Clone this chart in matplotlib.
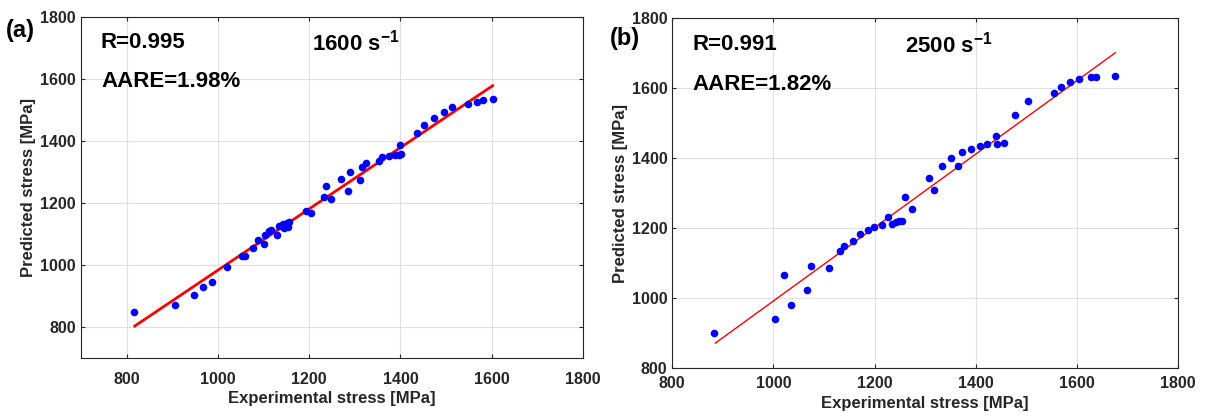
import matplotlib
matplotlib.use("Agg")
import matplotlib.pyplot as plt

plt.rcParams['font.family'] = ['Liberation Sans', 'DejaVu Sans']
plt.rcParams['font.weight'] = 'bold'
plt.rcParams['mathtext.fontset'] = 'custom'
plt.rcParams['mathtext.rm'] = 'Liberation Sans:bold'
plt.rcParams['mathtext.bf'] = 'Liberation Sans:bold'
plt.rcParams['mathtext.default'] = 'rm'

# panel (a): 1600 s^-1
exp_a = [817, 907, 948, 967, 988, 1021, 1054, 1059, 1077, 1089, 1101, 1104,
         1113, 1116, 1129, 1135, 1143, 1146, 1151, 1153, 1156, 1194, 1205,
         1232, 1238, 1247, 1270, 1286, 1289, 1311, 1315, 1324, 1353, 1359,
         1375, 1388, 1396, 1400, 1401, 1436, 1451, 1474, 1496, 1514, 1549,
         1568, 1582, 1602]
pred_a = [848, 872, 902, 929, 946, 993, 1029, 1029, 1056, 1081, 1066, 1096,
          1110, 1114, 1096, 1127, 1131, 1118, 1135, 1123, 1138, 1175, 1169,
          1219, 1254, 1213, 1278, 1240, 1301, 1275, 1315, 1328, 1335, 1348,
          1352, 1355, 1356, 1387, 1358, 1424, 1452, 1475, 1494, 1508, 1518,
          1525, 1532, 1534]
fit_a_x = [818, 1602]
fit_a_y = [803, 1578]

# panel (b): 2500 s^-1
exp_b = [883, 1003, 1020, 1034, 1067, 1074, 1110, 1132, 1139, 1157, 1172,
         1187, 1199, 1215, 1226, 1234, 1242, 1248, 1254, 1261, 1273, 1308,
         1317, 1334, 1352, 1364, 1372, 1391, 1409, 1422, 1441, 1442, 1455,
         1478, 1504, 1554, 1568, 1586, 1604, 1628, 1637, 1676]
pred_b = [900, 939, 1066, 979, 1024, 1092, 1085, 1135, 1149, 1162, 1183,
          1194, 1204, 1209, 1232, 1213, 1217, 1219, 1219, 1288, 1255, 1344,
          1310, 1377, 1399, 1377, 1416, 1427, 1434, 1439, 1462, 1440, 1443,
          1522, 1562, 1587, 1604, 1617, 1626, 1631, 1632, 1635]
fit_b_x = [885, 1676]
fit_b_y = [871, 1701]

panels = [
    dict(x=exp_a, y=pred_a, fx=fit_a_x, fy=fit_a_y, lw=2.0, lim=(700, 1800),
         tag='(a)', r='R=0.995', aare='AARE=1.98%', rate='1600',
         rect=[0.067, 0.1415, 0.416, 0.818], tagpos=(0.005, 0.9), xpad=10),
    dict(x=exp_b, y=pred_b, fx=fit_b_x, fy=fit_b_y, lw=1.0, lim=(800, 1800),
         tag='(b)', r='R=0.991', aare='AARE=1.82%', rate='2500',
         rect=[0.557, 0.1175, 0.419, 0.839], tagpos=(0.505, 0.88), xpad=6),
]

fig = plt.figure(figsize=(12.07, 4.17), dpi=100)
gray = '#262626'
for p in panels:
    ax = fig.add_axes(p['rect'])
    ax.scatter(p['x'], p['y'], s=30, color='#0000ff', zorder=3, linewidths=0)
    ax.plot(p['fx'], p['fy'], color='#ff0000', lw=p['lw'], zorder=2)
    ax.set_xlim(p['lim'])
    ax.set_ylim(p['lim'])
    ax.set_xticks(range(800, 1801, 200))
    ax.set_yticks(range(800, 1801, 200))
    ax.grid(True, color='#e0e0e0', lw=0.8)
    ax.set_axisbelow(True)
    ax.tick_params(direction='in', top=True, right=True, labelsize=11.5,
                   colors=gray, length=3)
    ax.tick_params(axis='x', pad=p['xpad'])
    for sp in ax.spines.values():
        sp.set_color(gray)
        sp.set_linewidth(0.8)
    ax.set_xlabel('Experimental stress [MPa]', fontsize=12, color=gray,
                  fontweight='bold', labelpad=3)
    ax.set_ylabel('Predicted stress [MPa]', fontsize=12, color=gray,
                  fontweight='bold', labelpad=3)
    ax.text(0.04, 0.925, p['r'], transform=ax.transAxes, fontsize=16,
            fontweight='bold', va='center')
    ax.text(0.04, 0.81, p['aare'], transform=ax.transAxes, fontsize=16,
            fontweight='bold', va='center')
    ax.text(0.46, 0.925, p['rate'] + r' s$^{-1}$', transform=ax.transAxes,
            fontsize=16, fontweight='bold', va='center')
    fig.text(p['tagpos'][0], p['tagpos'][1], p['tag'], fontsize=17,
             fontweight='bold', va='bottom')

fig.savefig('out.png', dpi=100)
